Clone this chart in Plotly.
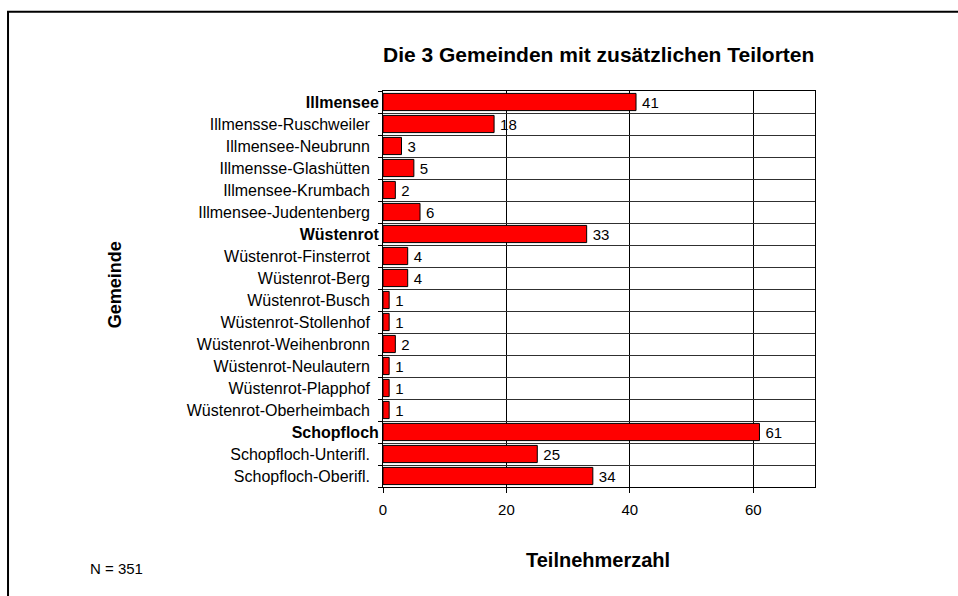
import plotly.graph_objects as go

categories = [
    "Illmensee", "Illmensse-Ruschweiler", "Illmensee-Neubrunn", "Illmensse-Glashütten",
    "Illmensee-Krumbach", "Illmensee-Judentenberg", "Wüstenrot", "Wüstenrot-Finsterrot",
    "Wüstenrot-Berg", "Wüstenrot-Busch", "Wüstenrot-Stollenhof", "Wüstenrot-Weihenbronn",
    "Wüstenrot-Neulautern", "Wüstenrot-Plapphof", "Wüstenrot-Oberheimbach", "Schopfloch",
    "Schopfloch-Unterifl.", "Schopfloch-Oberifl.",
]
values = [41, 18, 3, 5, 2, 6, 33, 4, 4, 1, 1, 2, 1, 1, 1, 61, 25, 34]
main_places = ["Illmensee", "Wüstenrot", "Schopfloch"]
x_ticks = [0, 20, 40, 60]

title_text = "Die 3 Gemeinden mit zusätzlichen Teilorten"
x_title = "Teilnehmerzahl"
y_title = "Gemeinde"
note = "N = 351"

FONT = "Liberation Sans, Arial, sans-serif"

ticktext = [f"<b>{c}</b>" if c in main_places else c + "\u00a0\u00a0" for c in categories]

fig = go.Figure(go.Bar(
    y=categories, x=values, orientation="h",
    marker=dict(color="#FF0000", line=dict(color="#000000", width=1)),
    text=["\u2009" + str(v) for v in values], textposition="outside",
    textfont=dict(family=FONT, size=15, color="#000000"),
    cliponaxis=False,
))

fig.update_layout(
    width=958, height=596,
    margin=dict(l=383, r=143, t=91, b=109),
    paper_bgcolor="white", plot_bgcolor="white",
    showlegend=False,
    bargap=0.22,
    font=dict(family=FONT, color="#000000"),
    xaxis=dict(
        range=[0, 70], tickvals=x_ticks, ticks="outside", ticklen=5,
        tickcolor="#000000", showgrid=True, gridcolor="#000000", gridwidth=1,
        showline=True, linecolor="#000000", linewidth=1, mirror=True,
        zeroline=False, ticklabelstandoff=4,
        tickfont=dict(family=FONT, size=15, color="#000000"),
    ),
    yaxis=dict(
        type="category", autorange="reversed",
        tickvals=categories, ticktext=ticktext,
        tickson="boundaries", ticks="outside", ticklen=4, tickcolor="#000000",
        showgrid=True, gridcolor="#303030", gridwidth=1,
        showline=True, linecolor="#000000", linewidth=1, mirror=True,
        ticklabelstandoff=0,
        tickfont=dict(family=FONT, size=16, color="#000000"),
    ),
    shapes=[dict(
        type="rect", xref="paper", yref="paper",
        x0=-0.868, x1=1.5, y0=-0.6, y1=1.2, layer="below",
        line=dict(color="#000000", width=2), fillcolor="rgba(0,0,0,0)",
    )],
    annotations=[
        dict(text=f"<b>{title_text}</b>", xref="paper", yref="paper", x=0.498, y=1.091,
             showarrow=False, font=dict(family=FONT, size=21, color="#000000"),
             xanchor="center", yanchor="middle"),
        dict(text=f"<b>{y_title}</b>", xref="paper", yref="paper", x=-0.620, y=0.51,
             showarrow=False, textangle=-90, font=dict(family=FONT, size=18, color="#000000"),
             xanchor="center", yanchor="middle"),
        dict(text=f"<b>{x_title}</b>", xref="paper", yref="paper", x=0.497, y=-0.184,
             showarrow=False, font=dict(family=FONT, size=20, color="#000000"),
             xanchor="center", yanchor="middle"),
        dict(text=note, xref="paper", yref="paper", x=-0.618, y=-0.207,
             showarrow=False, font=dict(family=FONT, size=15, color="#000000"),
             xanchor="center", yanchor="middle"),
    ],
)

fig.write_html("out.html", config={"displayModeBar": False},
               post_script="document.body.style.margin='0';document.body.style.overflow='hidden';")
